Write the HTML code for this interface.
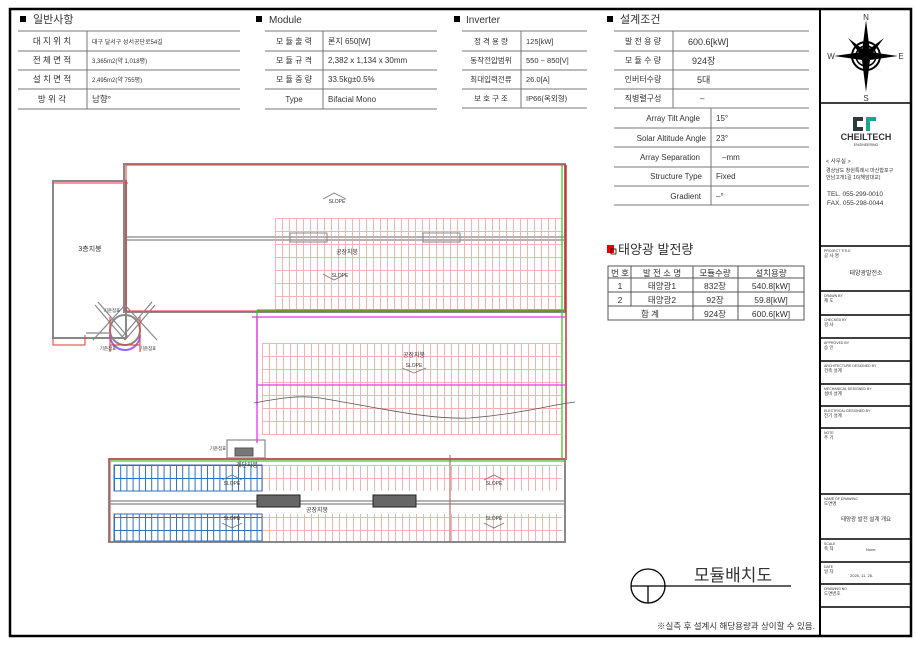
<!DOCTYPE html>
<html><head><meta charset="utf-8">
<style>
html,body{margin:0;padding:0;background:#fff;}
svg{display:block;}
text{font-family:"Liberation Sans","Noto Sans CJK KR",sans-serif;fill:#333;}
</style></head><body>
<svg width="916" height="647" viewBox="0 0 916 647" xmlns="http://www.w3.org/2000/svg">
<defs>
<pattern id="pk" x="275" y="218" width="7" height="13" patternUnits="userSpaceOnUse">
<rect x="0.5" y="0.5" width="7" height="13" fill="none" stroke="#f2a0a0" stroke-width="0.8"/>
</pattern>
<pattern id="pk2" x="262" y="343" width="7" height="13" patternUnits="userSpaceOnUse">
<rect x="0.5" y="0.5" width="7" height="13" fill="none" stroke="#f2a0a0" stroke-width="0.8"/>
</pattern>
<pattern id="pk3" x="262" y="465" width="7" height="13" patternUnits="userSpaceOnUse">
<rect x="0.5" y="0.5" width="7" height="13" fill="none" stroke="#f2a0a0" stroke-width="0.8"/>
</pattern>
<pattern id="bl" x="114" y="465" width="6.2" height="13" patternUnits="userSpaceOnUse">
<rect x="0.5" y="0.5" width="6.2" height="13" fill="none" stroke="#2f6fbf" stroke-width="1"/>
</pattern>
</defs>

<!-- outer frame -->
<rect x="10" y="9" width="901" height="627" fill="none" stroke="#000" stroke-width="2.5"/>
<line x1="820" y1="9" x2="820" y2="636" stroke="#000" stroke-width="2"/>

<!-- right panel dividers -->
<g stroke="#000" stroke-width="1.5">
<line x1="820" y1="103" x2="911" y2="103"/>
<line x1="820" y1="246" x2="911" y2="246"/>
<line x1="820" y1="291" x2="911" y2="291"/>
<line x1="820" y1="315" x2="911" y2="315"/>
<line x1="820" y1="338" x2="911" y2="338"/>
<line x1="820" y1="361" x2="911" y2="361"/>
<line x1="820" y1="384" x2="911" y2="384"/>
<line x1="820" y1="406" x2="911" y2="406"/>
<line x1="820" y1="428" x2="911" y2="428"/>
<line x1="820" y1="494" x2="911" y2="494"/>
<line x1="820" y1="539" x2="911" y2="539"/>
<line x1="820" y1="562" x2="911" y2="562"/>
<line x1="820" y1="584" x2="911" y2="584"/>
<line x1="820" y1="607" x2="911" y2="607"/>
</g>

<!-- compass -->
<g transform="translate(866,56)">
<circle r="14" fill="none" stroke="#000" stroke-width="2"/>
<circle r="10" fill="none" stroke="#000" stroke-width="1.5"/>
<polygon points="0,-36 4,-4 0,0 -4,-4" fill="#000"/>
<polygon points="0,36 4,4 0,0 -4,4" fill="#000"/>
<polygon points="-32,0 -4,-4 0,0 -4,4" fill="#000"/>
<polygon points="32,0 4,-4 0,0 4,4" fill="#000"/>
<polygon points="-18,-18 2,-3 0,0 -3,2" fill="#000"/>
<polygon points="18,-18 3,2 0,0 -2,-3" fill="#000"/>
<polygon points="-18,18 -2,3 0,0 3,-2" fill="#000"/>
<polygon points="18,18 -3,-2 0,0 2,3" fill="#000"/>
</g>
<text x="866" y="20" font-size="8" text-anchor="middle" fill="#000">N</text>
<text x="866" y="101" font-size="8" text-anchor="middle" fill="#000">S</text>
<text x="831" y="59" font-size="8" text-anchor="middle" fill="#000">W</text>
<text x="901" y="59" font-size="8" text-anchor="middle" fill="#000">E</text>

<!-- logo -->
<path d="M853,117 h10 v4 h-6 v6 h6 v4 h-10 z" fill="#2d3a3a"/>
<path d="M866,117 h10 v4 h-6 v10 h-4 z" fill="#1aa58f"/>
<text x="866" y="140" font-size="9" font-weight="bold" text-anchor="middle" fill="#222">CHEILTECH</text>
<text x="866" y="146" font-size="3.5" text-anchor="middle" fill="#444">ENGINEERING</text>
<text x="826" y="163" font-size="5.5">&lt; 사무실 &gt;</text>
<text x="826" y="172" font-size="5">경상남도 창원특례시 마산합포구</text>
<text x="826" y="179" font-size="5">안남고개1길 16(해암대교)</text>
<text x="827" y="196" font-size="6.5">TEL. 055-299-0010</text>
<text x="827" y="205" font-size="6.5">FAX. 055-298-0044</text>

<g font-size="3.5" fill="#555">
<text x="824" y="252">PROJECT TITLE</text><text x="824" y="257" font-size="4.5">공 사 명</text>
<text x="866" y="275" font-size="6" text-anchor="middle">태양광발전소</text>
<text x="824" y="297">DRAWN BY</text><text x="824" y="302" font-size="4.5">제 도</text>
<text x="824" y="321">CHECKED BY</text><text x="824" y="326" font-size="4.5">검 사</text>
<text x="824" y="344">APPROVED BY</text><text x="824" y="349" font-size="4.5">승 인</text>
<text x="824" y="367">ARCHITECTURE DESIGNED BY</text><text x="824" y="372" font-size="4.5">건축 설계</text>
<text x="824" y="390">MECHANICAL DESIGNED BY</text><text x="824" y="395" font-size="4.5">설비 설계</text>
<text x="824" y="412">ELECTRICAL DESIGNED BY</text><text x="824" y="417" font-size="4.5">전기 설계</text>
<text x="824" y="434">NOTE</text><text x="824" y="439" font-size="4.5">주 기</text>
<text x="824" y="500">NAME OF DRAWING</text><text x="824" y="505" font-size="4.5">도면명</text>
<text x="866" y="521" font-size="5.5" text-anchor="middle">태양광 발전 설계 개요</text>
<text x="824" y="545">SCALE</text><text x="824" y="550" font-size="4.5">축 척</text>
<text x="866" y="551" font-size="4">None</text>
<text x="824" y="568">DATE</text><text x="824" y="573" font-size="4.5">일 자</text>
<text x="850" y="577" font-size="4">2025. 11. 26.</text>
<text x="824" y="590">DRAWING NO</text><text x="824" y="595" font-size="4.5">도면번호</text>
</g>

<!-- 일반사항 -->
<rect x="20" y="16" width="6" height="6" fill="#000"/>
<text x="33" y="23" font-size="11">일반사항</text>
<g stroke="#777" stroke-width="1">
<line x1="18" y1="31" x2="240" y2="31"/><line x1="18" y1="51" x2="240" y2="51"/>
<line x1="18" y1="70" x2="240" y2="70"/><line x1="18" y1="89" x2="240" y2="89"/>
<line x1="18" y1="109" x2="240" y2="109"/><line x1="87" y1="31" x2="87" y2="109"/>
</g>
<g font-size="8.5">
<text x="52" y="44" text-anchor="middle">대 지 위 치</text>
<text x="52" y="63" text-anchor="middle">전 체 면 적</text>
<text x="52" y="82" text-anchor="middle">설 치 면 적</text>
<text x="52" y="102" text-anchor="middle">방  위  각</text>
<text x="92" y="44" font-size="6">대구 달서구 성서공단로54길</text>
<text x="92" y="63" font-size="6">3,365m2(약 1,018평)</text>
<text x="92" y="82" font-size="6">2,495m2(약 755평)</text>
<text x="92" y="102">남향°</text>
</g>

<!-- Module -->
<rect x="256" y="16" width="6" height="6" fill="#000"/>
<text x="269" y="23" font-size="10">Module</text>
<g stroke="#777" stroke-width="1">
<line x1="265" y1="31" x2="437" y2="31"/><line x1="265" y1="51" x2="437" y2="51"/>
<line x1="265" y1="70" x2="437" y2="70"/><line x1="265" y1="89" x2="437" y2="89"/>
<line x1="265" y1="109" x2="437" y2="109"/><line x1="323" y1="31" x2="323" y2="109"/>
</g>
<g font-size="8">
<text x="294" y="44" text-anchor="middle">모 듈 출 력</text>
<text x="294" y="63" text-anchor="middle">모 듈 규 격</text>
<text x="294" y="82" text-anchor="middle">모 듈 중 량</text>
<text x="294" y="102" text-anchor="middle">Type</text>
<text x="328" y="44">론지 650[W]</text>
<text x="328" y="63">2,382 x 1,134 x 30mm</text>
<text x="328" y="82">33.5kg±0.5%</text>
<text x="328" y="102">Bifacial Mono</text>
</g>

<!-- Inverter -->
<rect x="454" y="16" width="6" height="6" fill="#000"/>
<text x="466" y="23" font-size="10">Inverter</text>
<g stroke="#777" stroke-width="1">
<line x1="462" y1="31" x2="587" y2="31"/><line x1="462" y1="51" x2="587" y2="51"/>
<line x1="462" y1="70" x2="587" y2="70"/><line x1="462" y1="89" x2="587" y2="89"/>
<line x1="462" y1="108" x2="587" y2="108"/><line x1="521" y1="31" x2="521" y2="108"/>
</g>
<g font-size="7.5">
<text x="491" y="44" text-anchor="middle">정 격 용 량</text>
<text x="491" y="63" text-anchor="middle">동작전압범위</text>
<text x="491" y="82" text-anchor="middle">최대입력전류</text>
<text x="491" y="101" text-anchor="middle">보 호 구 조</text>
<text x="526" y="44">125[kW]</text>
<text x="526" y="63">550 ~ 850[V]</text>
<text x="526" y="82">26.0[A]</text>
<text x="526" y="101">IP66(옥외형)</text>
</g>

<!-- 설계조건 -->
<rect x="607" y="16" width="6" height="6" fill="#000"/>
<text x="620" y="23" font-size="11">설계조건</text>
<g stroke="#777" stroke-width="1">
<line x1="614" y1="31" x2="809" y2="31"/><line x1="614" y1="51" x2="809" y2="51"/>
<line x1="614" y1="70" x2="809" y2="70"/><line x1="614" y1="89" x2="809" y2="89"/>
<line x1="614" y1="108" x2="809" y2="108"/><line x1="614" y1="128" x2="809" y2="128"/>
<line x1="614" y1="147" x2="809" y2="147"/><line x1="614" y1="167" x2="809" y2="167"/>
<line x1="614" y1="186" x2="809" y2="186"/><line x1="614" y1="205" x2="809" y2="205"/>
<line x1="673" y1="31" x2="673" y2="108"/><line x1="711" y1="108" x2="711" y2="205"/>
</g>
<g font-size="8">
<text x="643" y="44" text-anchor="middle">발 전 용 량</text>
<text x="643" y="63" text-anchor="middle">모 듈 수 량</text>
<text x="643" y="82" text-anchor="middle">인버터수량</text>
<text x="643" y="101" text-anchor="middle">직병렬구성</text>
<text x="688" y="45" font-size="9">600.6[kW]</text>
<text x="692" y="64" font-size="9">924장</text>
<text x="697" y="83" font-size="9">5대</text>
<text x="700" y="101">–</text>
<text x="700" y="121" text-anchor="end">Array Tilt Angle</text>
<text x="706" y="141" text-anchor="end">Solar Altitude Angle</text>
<text x="700" y="160" text-anchor="end">Array Separation</text>
<text x="702" y="179" text-anchor="end">Structure Type</text>
<text x="701" y="199" text-anchor="end">Gradient</text>
<text x="716" y="121">15°</text>
<text x="716" y="141">23°</text>
<text x="722" y="160">–mm</text>
<text x="716" y="179">Fixed</text>
<text x="716" y="199">–°</text>
</g>

<!-- 태양광 발전량 -->
<rect x="607" y="245" width="7" height="8" fill="#e00"/>
<rect x="611" y="249" width="5" height="5" fill="none" stroke="#000" stroke-width="0.8"/>
<text x="618" y="254" font-size="13">태양광 발전량</text>
<g stroke="#555" stroke-width="1" fill="none">
<rect x="608" y="266" width="196" height="54"/>
<line x1="608" y1="278" x2="804" y2="278"/><line x1="608" y1="292" x2="804" y2="292"/>
<line x1="608" y1="306" x2="804" y2="306"/>
<line x1="631" y1="266" x2="631" y2="306"/><line x1="693" y1="266" x2="693" y2="320"/>
<line x1="738" y1="266" x2="738" y2="320"/>
</g>
<g font-size="8.5" text-anchor="middle">
<text x="620" y="276">번 호</text><text x="662" y="276">발 전 소 명</text>
<text x="715" y="276">모듈수량</text><text x="771" y="276">설치용량</text>
<text x="620" y="289">1</text><text x="662" y="289">태양광1</text>
<text x="715" y="289">832장</text><text x="771" y="289">540.8[kW]</text>
<text x="620" y="303">2</text><text x="662" y="303">태양광2</text>
<text x="715" y="303">92장</text><text x="771" y="303">59.8[kW]</text>
<text x="650" y="317">합  계</text>
<text x="715" y="317">924장</text><text x="771" y="317">600.6[kW]</text>
</g>

<!-- title -->
<circle cx="648" cy="586" r="17" fill="none" stroke="#000" stroke-width="1.3"/>
<line x1="631" y1="586" x2="791" y2="586" stroke="#000" stroke-width="1.3"/>
<line x1="648" y1="586" x2="648" y2="603" stroke="#000" stroke-width="1.3"/>
<text x="733" y="581" font-size="17" text-anchor="middle" fill="#222">모듈배치도</text>
<text x="815" y="629" font-size="8.5" text-anchor="end" fill="#222">※실측 후 설계시 해당용량과 상이할 수 있음.</text>

<!-- DRAWING -->
<g fill="none">
<!-- 3층 building -->
<rect x="53" y="181" width="73" height="157" stroke="#888" stroke-width="2"/>
<polyline points="53,183 128,183" stroke="#e33" stroke-width="1"/>
<polyline points="53,338 53,345 85,345 85,335" stroke="#e33" stroke-width="1"/>
<!-- top big building -->
<rect x="124" y="164" width="441" height="148" stroke="#888" stroke-width="2"/>
<rect x="126" y="165" width="439" height="146" stroke="#e33" stroke-width="1"/>
<line x1="127" y1="237" x2="565" y2="237" stroke="#888" stroke-width="1.2"/>
<line x1="127" y1="240" x2="565" y2="240" stroke="#888" stroke-width="1.2"/>
<rect x="275" y="218" width="287" height="92" fill="url(#pk)"/>
<rect x="290" y="233" width="37" height="9" stroke="#888" stroke-width="1"/>
<rect x="423" y="233" width="37" height="9" stroke="#888" stroke-width="1"/>
<line x1="562" y1="165" x2="562" y2="460" stroke="#3c3" stroke-width="1.3"/>
<line x1="566" y1="165" x2="566" y2="460" stroke="#c33" stroke-width="1.5"/>
<!-- middle -->
<line x1="257" y1="310" x2="565" y2="310" stroke="#3c3" stroke-width="1.3"/>
<line x1="257" y1="310" x2="257" y2="405" stroke="#3c3" stroke-width="1.3"/>
<line x1="252" y1="317" x2="565" y2="317" stroke="#e3e" stroke-width="1.3"/>
<line x1="257" y1="317" x2="257" y2="443" stroke="#e3e" stroke-width="1.3"/>
<rect x="262" y="343" width="300" height="92" fill="url(#pk2)"/>
<line x1="257" y1="385" x2="565" y2="385" stroke="#e3e" stroke-width="1.2"/>
<path d="M254,403 C280,398 300,395 320,398 C380,408 430,420 470,418 C520,414 550,405 575,402" stroke="#555" stroke-width="0.8"/>
<!-- small building -->
<rect x="227" y="440" width="38" height="18" stroke="#888" stroke-width="1.2"/>
<rect x="235" y="448" width="18" height="8" fill="#777" stroke="#555"/>
<!-- bottom building -->
<rect x="109" y="459" width="456" height="83" stroke="#888" stroke-width="2"/>
<line x1="109" y1="459" x2="565" y2="459" stroke="#e33" stroke-width="1"/>
<line x1="111" y1="461" x2="565" y2="461" stroke="#3c3" stroke-width="1.3"/>
<line x1="110" y1="459" x2="110" y2="542" stroke="#e33" stroke-width="1"/>
<line x1="109" y1="501" x2="565" y2="501" stroke="#888" stroke-width="1.2"/>
<line x1="109" y1="504" x2="565" y2="504" stroke="#888" stroke-width="1.2"/>
<line x1="450" y1="455" x2="450" y2="542" stroke="#a55" stroke-width="1"/>
<rect x="262" y="465" width="300" height="26" fill="url(#pk3)"/>
<rect x="262" y="514" width="300" height="27" fill="url(#pk3)"/>
<rect x="114" y="465" width="148" height="26" fill="url(#bl)" stroke="#2f6fbf"/>
<rect x="114" y="514" width="148" height="27" fill="url(#bl)" stroke="#2f6fbf"/>
<rect x="257" y="495" width="43" height="12" fill="#666" stroke="#222" stroke-width="1"/>
<rect x="373" y="495" width="43" height="12" fill="#666" stroke="#222" stroke-width="1"/>
<!-- stair feature -->
<circle cx="125" cy="330" r="15" stroke="#888" stroke-width="2"/>
<path d="M110,335 A15,15 0 0 0 140,335" stroke="#96f" stroke-width="2"/>
<g stroke="#888" stroke-width="1.2">
<line x1="95" y1="305" x2="125" y2="340"/><line x1="98" y1="302" x2="128" y2="337"/>
<line x1="155" y1="305" x2="125" y2="340"/><line x1="152" y1="302" x2="122" y2="337"/>
<line x1="93" y1="340" x2="125" y2="305"/><line x1="157" y1="340" x2="125" y2="305"/>
<line x1="86" y1="333" x2="110" y2="333"/>
</g>
<line x1="110" y1="345" x2="140" y2="345" stroke="#e33"/>
<line x1="110" y1="317" x2="110" y2="352" stroke="#e33"/>
<line x1="140" y1="317" x2="140" y2="352" stroke="#e33"/>
</g>
<!-- drawing labels -->
<g font-size="6" fill="#666" text-anchor="middle">
<text x="90" y="251" font-size="7">3층지붕</text>
<text x="347" y="254">공장지붕</text>
<text x="340" y="277" font-size="5">SLOPE</text>
<text x="337" y="203" font-size="5">SLOPE</text>
<text x="414" y="357">공장지붕</text>
<text x="414" y="367" font-size="5">SLOPE</text>
<text x="317" y="512">공장지붕</text>
<text x="247" y="467">계단지붕</text>
<text x="232" y="485" font-size="5">SLOPE</text>
<text x="232" y="520" font-size="5">SLOPE</text>
<text x="494" y="485" font-size="5">SLOPE</text>
<text x="494" y="520" font-size="5">SLOPE</text>
</g>
<g fill="none" stroke="#777" stroke-width="0.8">
<polyline points="323,199 334,193 346,199"/><polyline points="323,274 334,280 346,274"/>
<polyline points="402,368 414,373 426,368"/>
<polyline points="222,480 232,475 242,480"/><polyline points="222,523 232,528 242,523"/>
<polyline points="484,480 494,475 504,480"/><polyline points="484,523 494,528 504,523"/>
</g>
<g font-size="4.5" fill="#2cc" text-anchor="middle">
<text x="112" y="312">기준점표</text><text x="108" y="350">기준점표</text>
<text x="148" y="350">기준점표</text><text x="218" y="450">기준점표</text>
</g>
</svg>
</body></html>
